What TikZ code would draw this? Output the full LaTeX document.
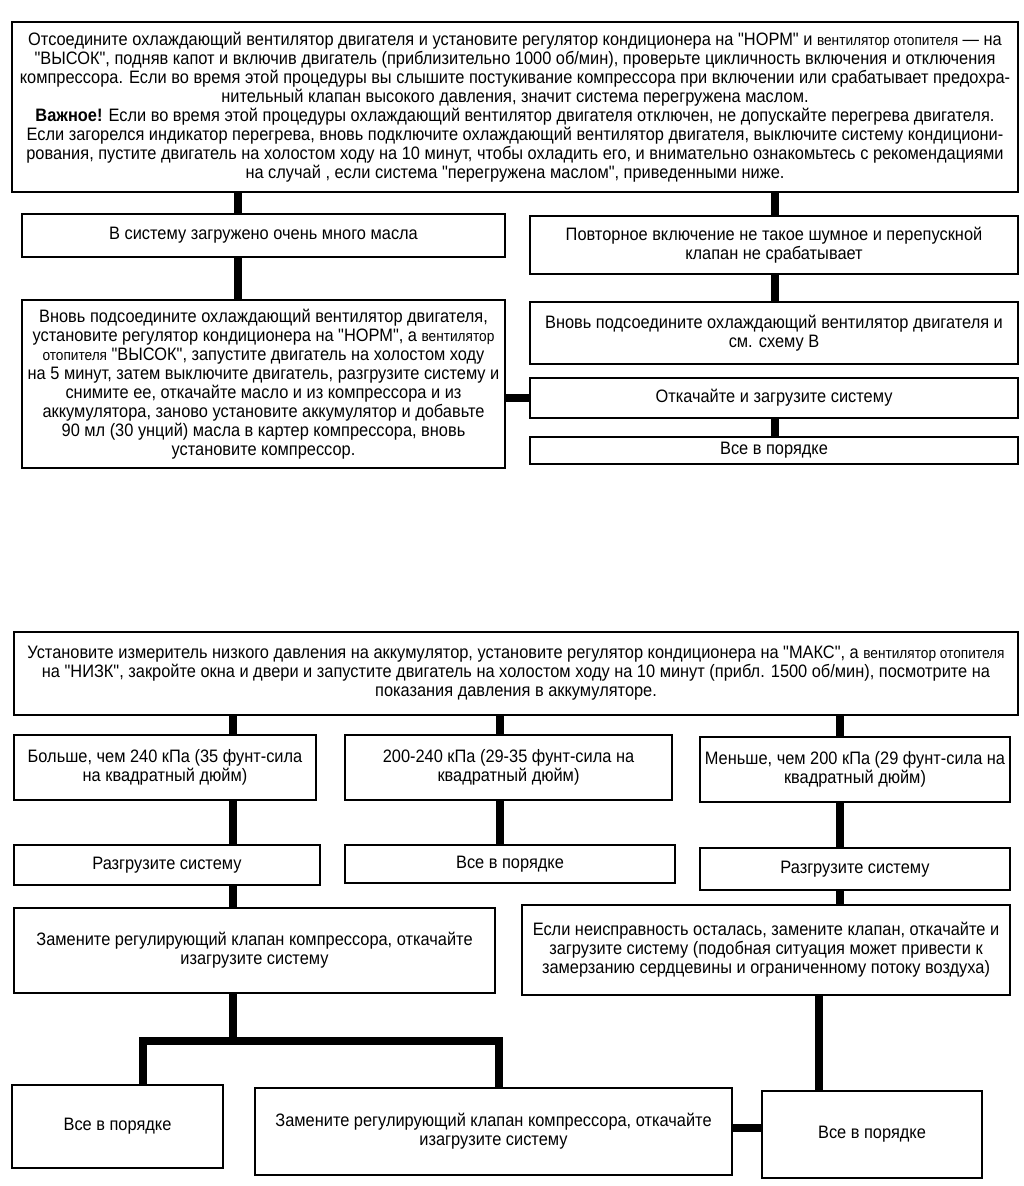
\documentclass[tikz,border=0pt]{standalone}
\usepackage{fontspec}
\setmainfont{Liberation Sans}[FakeStretch=0.91, Ligatures=TeXOff]
\newcommand\sm[1]{{\fontsize{15}{19}\selectfont #1}}
\newcommand\mybox[6]{\node[box, minimum width={(#4-#2)*1pt}, minimum height={(#5-#3)*1pt}] (#1) at ({(#2+#4)/2},{(#3+#5)/2}) {#6};}
\begin{document}
\begin{tikzpicture}[x=1pt,y=-1pt,
  box/.style={draw, line width=1.5pt, inner sep=0pt, align=center, font=\fontsize{18}{19}\selectfont},
  conn/.style={line width=7.5pt}]
\useasboundingbox (0,0) rectangle (1024,1186);
% ---------- upper chart ----------
\mybox{top}{12}{22}{1018}{192}{Отсоедините охлаждающий вентилятор двигателя и установите регулятор кондиционера на "НОРМ" и \sm{вентилятор отопителя} — на\\
"ВЫСОК", подняв капот и включив двигатель (приблизительно 1000 об/мин), проверьте цикличность включения и отключения\\
компрессора. Если во время этой процедуры вы слышите постукивание компрессора при включении или срабатывает предохра-\\
нительный клапан высокого давления, значит система перегружена маслом.\\
\textbf{Важное!} Если во время этой процедуры охлаждающий вентилятор двигателя отключен, не допускайте перегрева двигателя.\\
Если загорелся индикатор перегрева, вновь подключите охлаждающий вентилятор двигателя, выключите систему кондициони-\\
рования, пустите двигатель на холостом ходу на 10 минут, чтобы охладить его, и внимательно ознакомьтесь с рекомендациями\\
на случай , если система "перегружена маслом", приведенными ниже.}
\mybox{l1}{22}{214}{505}{257}{В систему загружено очень много масла}
\mybox{r1}{530}{216}{1018}{274}{Повторное включение не такое шумное и перепускной\\клапан не срабатывает}
\mybox{l2}{22}{300}{505}{468}{Вновь подсоедините охлаждающий вентилятор двигателя,\\
установите регулятор кондиционера на "НОРМ", а \sm{вентилятор}\\
\sm{отопителя} "ВЫСОК", запустите двигатель на холостом ходу\\
на 5 минут, затем выключите двигатель, разгрузите систему и\\
снимите ее, откачайте масло и из компрессора и из\\
аккумулятора, заново установите аккумулятор и добавьте\\
90 мл (30 унций) масла в картер компрессора, вновь\\
установите компрессор.}
\mybox{r2}{530}{302}{1018}{364}{Вновь подсоедините охлаждающий вентилятор двигателя и\\см. схему В}
\mybox{r3}{530}{378}{1018}{418}{Откачайте и загрузите систему}
\mybox{r4}{530}{437}{1018}{464}{Все в порядке}
\coordinate (xa) at (238,0);
\coordinate (xb) at (775,0);
\draw[conn] (top.south -| xa) -- (l1.north -| xa);
\draw[conn] (top.south -| xb) -- (r1.north -| xb);
\draw[conn] (l1.south -| xa) -- (l2.north -| xa);
\draw[conn] (r1.south -| xb) -- (r2.north -| xb);
\draw[conn] (l2.east |- r3.west) -- (r3.west);
\draw[conn] (r3.south -| xb) -- (r4.north -| xb);
% ---------- lower chart ----------
\mybox{t2}{14}{632}{1018}{715}{Установите измеритель низкого давления на аккумулятор, установите регулятор кондиционера на "МАКС", а \sm{вентилятор отопителя}\\
на "НИЗК", закройте окна и двери и запустите двигатель на холостом ходу на 10 минут (прибл. 1500 об/мин), посмотрите на\\
показания давления в аккумуляторе.}
\mybox{a1}{14}{735}{316}{800}{Больше, чем 240 кПа (35 фунт-сила\\на квадратный дюйм)}
\mybox{b1}{345}{735}{672}{800}{200-240 кПа (29-35 фунт-сила на\\квадратный дюйм)}
\mybox{c1}{700}{737}{1010}{802}{Меньше, чем 200 кПа (29 фунт-сила на\\квадратный дюйм)}
\mybox{a2}{14}{845}{320}{885}{Разгрузите систему}
\mybox{b2}{345}{845}{675}{883}{Все в порядке}
\mybox{c2}{700}{848}{1010}{890}{Разгрузите систему}
\mybox{a3}{14}{908}{495}{993}{Замените регулирующий клапан компрессора, откачайте\\изагрузите систему}
\mybox{c3}{522}{905}{1010}{995}{Если неисправность осталась, замените клапан, откачайте и\\
загрузите систему (подобная ситуация может привести к\\
замерзанию сердцевины и ограниченному потоку воздуха)}
\mybox{d1}{12}{1085}{223}{1168}{Все в порядке}
\mybox{d2}{255}{1088}{732}{1175}{Замените регулирующий клапан компрессора, откачайте\\изагрузите систему}
\mybox{d3}{762}{1091}{982}{1178}{Все в порядке}
\coordinate (xc) at (233,0);
\coordinate (xd) at (500,0);
\coordinate (xe) at (840,0);
\coordinate (xf) at (143,0);
\coordinate (xg) at (499,0);
\coordinate (xh) at (819,0);
\coordinate (jy) at (0,1041);
\coordinate (ky) at (0,1128);
\draw[conn] (t2.south -| xc) -- (a1.north -| xc);
\draw[conn] (t2.south -| xd) -- (b1.north -| xd);
\draw[conn] (t2.south -| xe) -- (c1.north -| xe);
\draw[conn] (a1.south -| xc) -- (a2.north -| xc);
\draw[conn] (b1.south -| xd) -- (b2.north -| xd);
\draw[conn] (c1.south -| xe) -- (c2.north -| xe);
\draw[conn] (a2.south -| xc) -- (a3.north -| xc);
\draw[conn] (c2.south -| xe) -- (c3.north -| xe);
\draw[conn] (a3.south -| xc) -- (xc |- jy);
\draw[conn] (d1.north -| xf) -- (xf |- jy) -- (xg |- jy) -- (d2.north -| xg);
\draw[conn] (c3.south -| xh) -- (d3.north -| xh);
\draw[conn] (d2.east |- ky) -- (d3.west |- ky);
\end{tikzpicture}
\end{document}
